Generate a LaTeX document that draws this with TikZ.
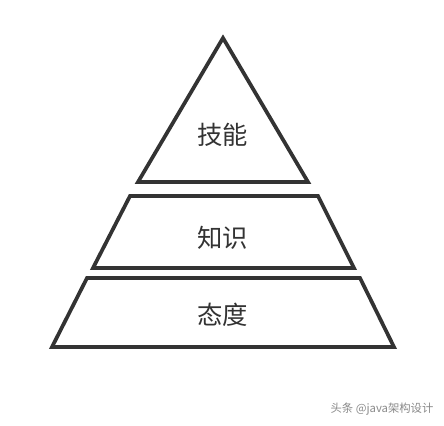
\documentclass[tikz,border=0pt]{standalone}
\usepackage{fontspec}
\newfontfamily\cjk{Noto Sans CJK SC}
\definecolor{ink}{HTML}{333333}
\definecolor{wm}{HTML}{8A8A8A}
\begin{document}
\begin{tikzpicture}[x=0.75pt,y=-0.75pt,
  layer/.style={draw=ink,line width=2.8pt,line join=miter},
  lbl/.style={font=\cjk\fontsize{19}{22}\selectfont,text=ink,inner sep=0pt}]
\useasboundingbox (0,0) rectangle (444,426);
\fill[white] (0,0) rectangle (444,426);
\draw[layer] (223,38) -- (308,182) -- (138,182) -- cycle;
\draw[layer] (130,196) -- (318,196) -- (354,268) -- (93,268) -- cycle;
\draw[layer] (87,278) -- (360,278) -- (394,347) -- (52,347) -- cycle;
\node[lbl] (skill) at (223,135) {技能};
\node[lbl] (know) at (223,238) {知识};
\node[lbl] (att) at (223,315) {态度};
\node[font=\cjk\fontsize{8.5}{10}\selectfont,text=wm,inner sep=0pt] (wmk) at (382,409) {头条 @java架构设计};
\end{tikzpicture}
\end{document}
